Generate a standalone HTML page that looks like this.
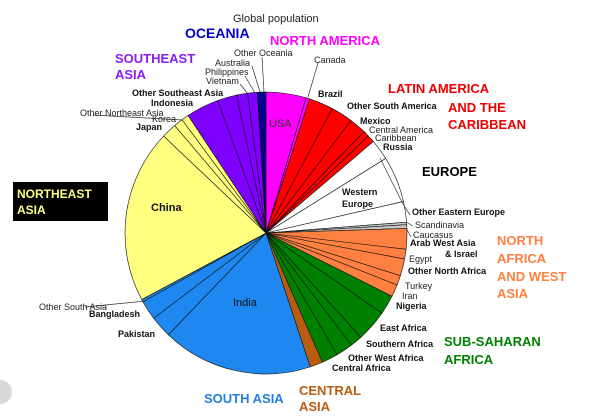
<!DOCTYPE html>
<html><head><meta charset="utf-8"><style>
html,body{margin:0;padding:0;background:#fff;width:595px;height:419px;overflow:hidden}
svg text{font-family:"Liberation Sans",Arial,sans-serif}
.s{font-size:9px;fill:#222}
.b{font-size:9px;font-weight:bold;fill:#111}
.h{font-size:13px;font-weight:bold}
</style></head><body>
<svg id="chart" width="595" height="419" viewBox="0 0 595 419" xmlns="http://www.w3.org/2000/svg">
<g id="slices"></g>
<g stroke="#333" stroke-width="0.7" fill="none">
<path d="M262 57 L264 92"/><path d="M252 66 L260 92"/><path d="M245 76 L255 93"/><path d="M240 84 L248 94"/>
<path d="M318 63 L308 97"/>
<path d="M366 133 L360 128"/><path d="M373 141 L368 136"/>
<path d="M410 215 L403 204 L380 158"/><path d="M413 226 L406 222"/><path d="M411 237 L406 228"/>
<path d="M93 115 L182 120"/><path d="M85 307 L146 301"/>
</g>
<text x="233" y="22" class="s" style="font-size:11px">Global population</text>
<text x="185" y="38" class="h" fill="#0000cc" style="font-size:14px">OCEANIA</text>
<text x="270" y="45" class="h" fill="#ff00ff">NORTH AMERICA</text>
<text x="115" y="63" class="h" fill="#8a1cf5">SOUTHEAST</text>
<text x="115" y="79" class="h" fill="#8a1cf5">ASIA</text>
<text x="388" y="93" class="h" fill="#ee0000">LATIN AMERICA</text>
<text x="448" y="112" class="h" fill="#ee0000">AND THE</text>
<text x="448" y="129" class="h" fill="#ee0000">CARIBBEAN</text>
<text x="422" y="176" class="h" fill="#000">EUROPE</text>
<text x="497" y="245" class="h" fill="#ff8040">NORTH</text>
<text x="497" y="263" class="h" fill="#ff8040">AFRICA</text>
<text x="497" y="281" class="h" fill="#ff8040">AND WEST</text>
<text x="497" y="298" class="h" fill="#ff8040">ASIA</text>
<text x="444" y="346" class="h" fill="#008000">SUB-SAHARAN</text>
<text x="444" y="364" class="h" fill="#008000">AFRICA</text>
<text x="299" y="395" class="h" fill="#b85c10">CENTRAL</text>
<text x="299" y="411" class="h" fill="#b85c10">ASIA</text>
<text x="204" y="403" class="h" fill="#2080e0">SOUTH ASIA</text>
<rect x="13" y="182" width="95" height="39" fill="#000"/>
<text x="17" y="198" class="h" fill="#ffff80" style="font-size:12px">NORTHEAST</text>
<text x="17" y="214" class="h" fill="#ffff80" style="font-size:12px">ASIA</text>
<g>
<text x="234" y="56" class="s">Other Oceania</text>
<text x="314" y="63" class="s">Canada</text>
<text x="215" y="66" class="s">Australia</text>
<text x="205" y="75" class="s">Philippines</text>
<text x="206" y="84" class="s">Vietnam</text>
<text x="132" y="96" class="b">Other Southeast Asia</text>
<text x="151" y="106" class="b">Indonesia</text>
<text x="80" y="116" class="s">Other Northeast Asia</text>
<text x="152" y="122" class="s">Korea</text>
<text x="136" y="130" class="b">Japan</text>
<text x="269" y="127" style="font-size:11px;fill:#333">USA</text>
<text x="318" y="97" class="b">Brazil</text>
<text x="347" y="109" class="b">Other South America</text>
<text x="360" y="124" class="b">Mexico</text>
<text x="369" y="133" class="s">Central America</text>
<text x="375" y="141" class="s">Caribbean</text>
<text x="383" y="150" class="b">Russia</text>
<text x="342" y="195" class="b">Western</text>
<text x="342" y="207" class="b">Europe</text>
<text x="412" y="215" class="b">Other Eastern Europe</text>
<text x="415" y="228" class="s">Scandinavia</text>
<text x="413" y="238" class="s">Caucasus</text>
<text x="410" y="246" class="b">Arab West Asia</text>
<text x="445" y="257" class="b">&amp; Israel</text>
<text x="409" y="262" class="s">Egypt</text>
<text x="408" y="274" class="b">Other North Africa</text>
<text x="405" y="289" class="s">Turkey</text>
<text x="402" y="299" class="s">Iran</text>
<text x="396" y="309" class="b">Nigeria</text>
<text x="380" y="331" class="b">East Africa</text>
<text x="366" y="347" class="b">Southern Africa</text>
<text x="348" y="361" class="b">Other West Africa</text>
<text x="332" y="371" class="b">Central Africa</text>
<text x="151" y="211" style="font-size:11px;font-weight:bold;fill:#111">China</text>
<text x="233" y="306" style="font-size:11px;fill:#111">India</text>
<text x="39" y="310" class="s">Other South Asia</text>
<text x="89" y="317" class="b">Bangladesh</text>
<text x="118" y="337" class="b">Pakistan</text>
</g>
<circle cx="0" cy="392" r="12" fill="#d8d8d8"/>
</svg>
<script>
const categories=["USA","Canada","Brazil","Other South America","Mexico","Central America","Caribbean","Russia","Western Europe","Other Eastern Europe","Scandinavia","Caucasus","Arab West Asia & Israel","Egypt","Other North Africa","Turkey","Iran","Nigeria","East Africa","Southern Africa","Other West Africa","Central Africa","Central Asia","India","Pakistan","Bangladesh","Other South Asia","China","Japan","Korea","Other Northeast Asia","Indonesia","Other Southeast Asia","Vietnam","Philippines","Australia","Other Oceania"];
const values=[16.5,1.5,10,9,7,2.5,3,8.5,19,8.5,1,1.5,8.5,4,7,4,5,8,13,5,7,6.7,5.3,62,9,8,1,71.5,6.2,3.8,3,13.5,8,4.5,4,1.5,2];
const colors=["#ff00ff","#ff00ff","#ff0000","#ff0000","#ff0000","#ff0000","#ff0000","#ffffff","#ffffff","#ffffff","#c8c8c8","#c8c8c8","#ff8040","#ff8040","#ff8040","#ff8040","#ff8040","#008000","#008000","#008000","#008000","#008000","#b85c10","#1e88f0","#1e88f0","#1e88f0","#1e88f0","#ffff80","#ffff80","#ffff80","#ffff80","#8000ff","#8000ff","#8000ff","#8000ff","#0000a0","#0000a0"];
const cx=266,cy=233,r=141;
const total=values.reduce((a,b)=>a+b,0);
function pt(a){const t=a/total*2*Math.PI;return [cx+r*Math.sin(t),cy-r*Math.cos(t)];}
const g=document.getElementById('slices');
let acc=0;
values.forEach((v,i)=>{
  const [x1,y1]=pt(acc),[x2,y2]=pt(acc+v);
  const large=(v/total)>0.5?1:0;
  const p=document.createElementNS('http://www.w3.org/2000/svg','path');
  p.setAttribute('d',`M${cx} ${cy} L${x1} ${y1} A${r} ${r} 0 ${large} 1 ${x2} ${y2} Z`);
  p.setAttribute('fill',colors[i]);
  p.setAttribute('stroke','#111');
  p.setAttribute('stroke-width','0.6');
  
  
  g.appendChild(p);
  acc+=v;
});
</script>
</body></html>
